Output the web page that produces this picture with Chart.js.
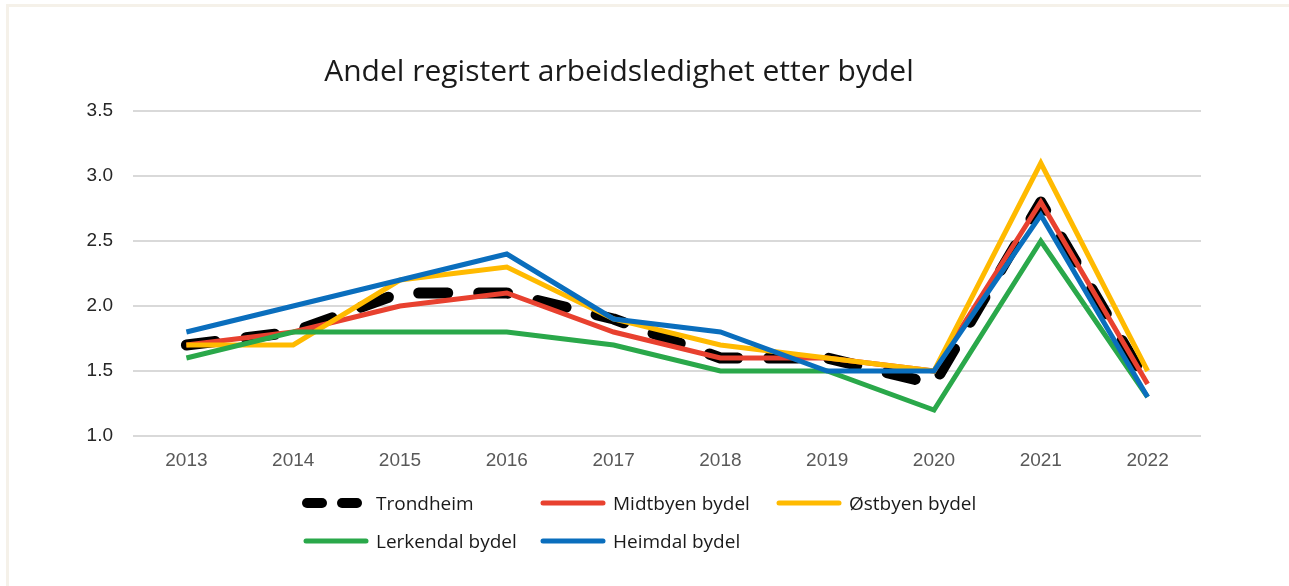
<!DOCTYPE html>
<html>
<head>
<meta charset="utf-8">
<script src="https://cdn.jsdelivr.net/npm/chart.js@4/dist/chart.umd.min.js"></script>
<style>
  body { margin: 0; background: #fff; }
  #wrap { position: relative; width: 1289px; height: 586px; overflow: hidden; }
  #frame { position: absolute; left: 6px; top: 4px; width: 1300px; height: 600px;
           border: 3px solid #f5f1e9; box-sizing: border-box; }
  #chart { position: absolute; left: 0; top: 0; }
  #title { position: absolute; left: 0; top: 50px; width: 1238px; text-align: center;
           font-family: "Open Sans"; font-size: 30px; line-height: 40px; color: #1a1a1a; }
  #legend { position: absolute; left: 302px; top: 488px; display: grid;
            grid-template-columns: 237px 236px 236px; row-gap: 9px; }
  .item { display: flex; align-items: center; height: 29px; }
  .swatch { width: 67px; height: 12px; margin-right: 7px; flex: none; }
  .label { font-family: "Open Sans"; font-size: 19px; color: #1a1a1a; white-space: nowrap; }
</style>
</head>
<body>
<div id="wrap">
  <div id="frame"></div>
  <canvas id="chart" width="1289" height="586"></canvas>
  <div id="title">Andel registert arbeidsledighet etter bydel</div>
  <div id="legend"></div>
</div>
<script>
var years = ['2013', '2014', '2015', '2016', '2017', '2018', '2019', '2020', '2021', '2022'];
var trondheim = [1.7, 1.8, 2.1, 2.1, 1.9, 1.6, 1.6, 1.4, 2.8, 1.4];
var midtbyen  = [1.7, 1.8, 2.0, 2.1, 1.8, 1.6, 1.6, 1.5, 2.8, 1.4];
var ostbyen   = [1.7, 1.7, 2.2, 2.3, 1.9, 1.7, 1.6, 1.5, 3.1, 1.5];
var lerkendal = [1.6, 1.8, 1.8, 1.8, 1.7, 1.5, 1.5, 1.2, 2.5, 1.3];
var heimdal   = [1.8, 2.0, 2.2, 2.4, 1.9, 1.8, 1.5, 1.5, 2.7, 1.3];
var seriesNames = ['Trondheim', 'Midtbyen bydel', 'Østbyen bydel', 'Lerkendal bydel', 'Heimdal bydel'];
var yTicks = [1.0, 1.5, 2.0, 2.5, 3.0, 3.5];

var colors = ['#000000', '#e8412f', '#ffba00', '#2aa84a', '#0a6ebd'];
var allData = [trondheim, midtbyen, ostbyen, lerkendal, heimdal];

var datasets = allData.map(function(d, i) {
    var ds = {
        label: seriesNames[i],
        data: d,
        borderColor: colors[i],
        backgroundColor: colors[i],
        borderWidth: 5,
        pointRadius: 0,
        tension: 0,
        fill: false,
        order: 5 - i   // later series drawn on top
    };
    if (i === 0) {
        ds.borderWidth = 11;
        ds.borderDash = [29, 31];
        ds.borderCapStyle = 'round';
        ds.borderJoinStyle = 'round';
    }
    return ds;
});

// legend in a grid like the original
var legend = document.getElementById('legend');
seriesNames.forEach(function(name, i) {
    var item = document.createElement('div');
    item.className = 'item';
    var sw = document.createElement('canvas');
    sw.className = 'swatch';
    sw.width = 67; sw.height = 12;
    var c = sw.getContext('2d');
    c.strokeStyle = colors[i];
    c.lineCap = 'round';
    if (i === 0) {
        c.lineWidth = 10;
        c.beginPath(); c.moveTo(5, 6); c.lineTo(20, 6); c.stroke();
        c.beginPath(); c.moveTo(40, 6); c.lineTo(55, 6); c.stroke();
    } else {
        c.lineWidth = 5;
        c.beginPath(); c.moveTo(4, 6); c.lineTo(64, 6); c.stroke();
    }
    var lab = document.createElement('span');
    lab.className = 'label';
    lab.textContent = name;
    item.appendChild(sw);
    item.appendChild(lab);
    legend.appendChild(item);
});

var ctx = document.getElementById('chart').getContext('2d');
new Chart(ctx, {
    type: 'line',
    data: { labels: years, datasets: datasets },
    options: {
        responsive: false,
        animation: false,
        layout: { padding: { top: 111, left: 85, right: 88, bottom: 115 } },
        plugins: { legend: { display: false }, title: { display: false }, tooltip: { enabled: false } },
        scales: {
            x: {
                offset: true,
                grid: { display: false },
                border: { display: false },
                ticks: { color: '#595959', padding: 5, font: { family: 'Liberation Sans', size: 19 } },
                afterFit: function(s) { s.height = 35; }
            },
            y: {
                min: 1.0,
                max: 3.5,
                afterBuildTicks: function(s) { s.ticks = yTicks.map(function(v) { return { value: v }; }); },
                grid: { color: '#d9d9d9', lineWidth: 2, drawTicks: false },
                border: { display: false },
                ticks: {
                    color: '#262626',
                    padding: 20,
                    font: { family: 'Liberation Sans', size: 19 },
                    callback: function(v) { return Number(v).toFixed(1); }
                },
                afterFit: function(s) { s.width = 48; }
            }
        }
    }
});
</script>
</body>
</html>
